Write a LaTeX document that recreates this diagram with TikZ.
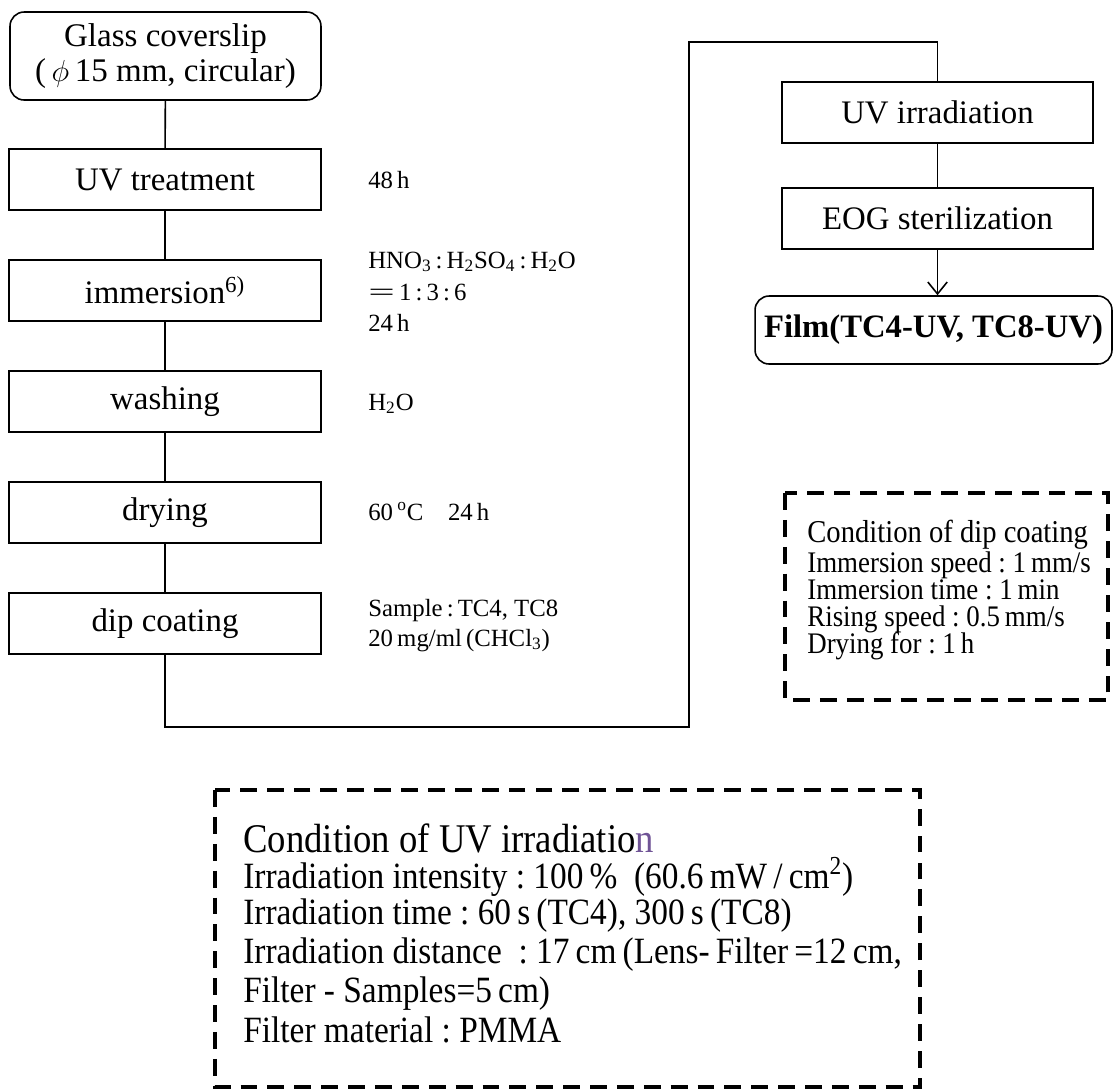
\documentclass[tikz,border=0pt]{standalone}
\usepackage{graphicx}
\usepackage{fontspec}
\setmainfont{Liberation Serif}
\newfontfamily\condfont[FakeStretch=0.9]{Liberation Serif}
\usetikzlibrary{arrows.meta}
\definecolor{uvpurple}{RGB}{112,84,150}
\tikzset{
  stepbox/.style={draw, line width=0.9pt, minimum width=6.24cm, minimum height=1.22cm,
    inner sep=0pt, font=\fontsize{18.7}{21}\selectfont},
  endbox/.style={stepbox, rounded corners=8pt},
  note/.style={anchor=base west, inner sep=0pt, font=\fontsize{14.1}{16}\selectfont},
  condbox/.style={line width=2.3pt, dash pattern=on 9.6pt off 5.7pt},
  dipline/.style={anchor=base west, inner sep=0pt, font=\condfont\fontsize{17}{19}\selectfont},
  uvline/.style={anchor=base west, inner sep=0pt, font=\condfont\fontsize{21.1}{23}\selectfont},
  link/.style={line width=0.9pt}
}

\begin{document}
\begin{tikzpicture}[x=0.02cm,y=-0.02cm]
\useasboundingbox (0,0) rectangle (1114,1090);
    % left column
    \node[endbox, minimum width=6.22cm, minimum height=1.76cm, align=center,
          font=\fontsize{18.8}{20}\selectfont] (glass) at (165.5,56)
          {Glass coverslip\\(\,$\phi$\,15 mm, circular)};
    \node[stepbox] (uvtreat) at (165,179.5) {UV treatment};
    \node[stepbox] (immers) at (165,290.5) {immersion\textsuperscript{6)}};
    \node[stepbox] (wash) at (165,401.5) {washing};
    \node[stepbox] (dry) at (165,512.5) {drying};
    \node[stepbox] (dip) at (165,623.5) {dip coating};

    \draw[link] (glass) -- (uvtreat);
    \draw[link] (uvtreat) -- (immers);
    \draw[link] (immers) -- (wash);
    \draw[link] (wash) -- (dry);
    \draw[link] (dry) -- (dip);

    % notes beside the steps
    \node[note] (n48) at (368,188) {48\,h};
    \node[note] (nacid) at (368,268) {HNO\textsubscript{3}\,:\,H\textsubscript{2}SO\textsubscript{4}\,:\,H\textsubscript{2}O};
    \node[note] (nratio) at (368,300) {\scalebox{1.9}[1]{=}\,1\,:\,3\,:\,6};
    \node[note] (n24) at (368,331) {24\,h};
    \node[note] (nwater) at (368,410) {H\textsubscript{2}O};
    \node[note] (ntemp) at (368,520) {60\,\textsuperscript{o}C\quad 24\,h};
    \node[note] (nsample) at (368,616) {Sample\,:\,TC4, TC8};
    \node[note] (nconc) at (368,646) {20\,mg/ml\,(CHCl\textsubscript{3})};

    % right column
    \node[stepbox, minimum width=6.22cm] (uvirr) at (937.5,112.5) {UV irradiation};
    \node[stepbox, minimum width=6.22cm] (eog) at (937.5,218.5) {EOG sterilization};
    \node[endbox, minimum width=7.14cm, minimum height=1.36cm,
          font=\bfseries\fontsize{18.6}{20}\selectfont] (film) at (933.5,330)
          {Film(TC4-UV, TC8-UV)};

    \coordinate (loopa) at (689,727);
    \coordinate (loopb) at (689,42);
    \draw[link] (dip.south) |- (loopa) -- (loopb) -| (uvirr.north);
    \draw[link] (uvirr) -- (eog);
    \draw[link, -{Straight Barb[length=6.8pt,width=11pt]}] (eog) -- (eog.south |- film.north);

    % dip coating conditions
    \draw[condbox] (785,493) rectangle (1108,700);
    \node[dipline, font=\condfont\fontsize{18.1}{20}\selectfont] (diptitle) at (807,542) {Condition of dip coating};
    \node[dipline] (dip1) at (807,572) {Immersion speed~:~1\,mm/s};
    \node[dipline] (dip2) at (807,599) {Immersion time~:~1\,min};
    \node[dipline] (dip3) at (807,626) {Rising speed~:~0.5\,mm/s};
    \node[dipline] (dip4) at (807,653) {Drying for~:~1\,h};

    % UV irradiation conditions
    \draw[condbox] (215,790) rectangle (920,1087);
    \node[uvline, font=\condfont\fontsize{23.2}{26}\selectfont] (uvtitle) at (243,852)
          {Condition of UV irradiatio{\color{uvpurple}n}};
    \node[uvline] (uv1) at (243,888) {Irradiation intensity~:~100\,\%~ (60.6\,mW\,/\,cm\textsuperscript{2})};
    \node[uvline] (uv2) at (243,924) {Irradiation time~:~60\,s\,(TC4), 300\,s\,(TC8)};
    \node[uvline] (uv3) at (243,963) {Irradiation distance~~:~17\,cm\,(Lens-\,Filter\,=12\,cm,};
    \node[uvline] (uv4) at (243,1002) {Filter - Samples=5\,cm)};
    \node[uvline] (uv5) at (243,1042) {Filter material~:~PMMA};
\end{tikzpicture}
\end{document}
